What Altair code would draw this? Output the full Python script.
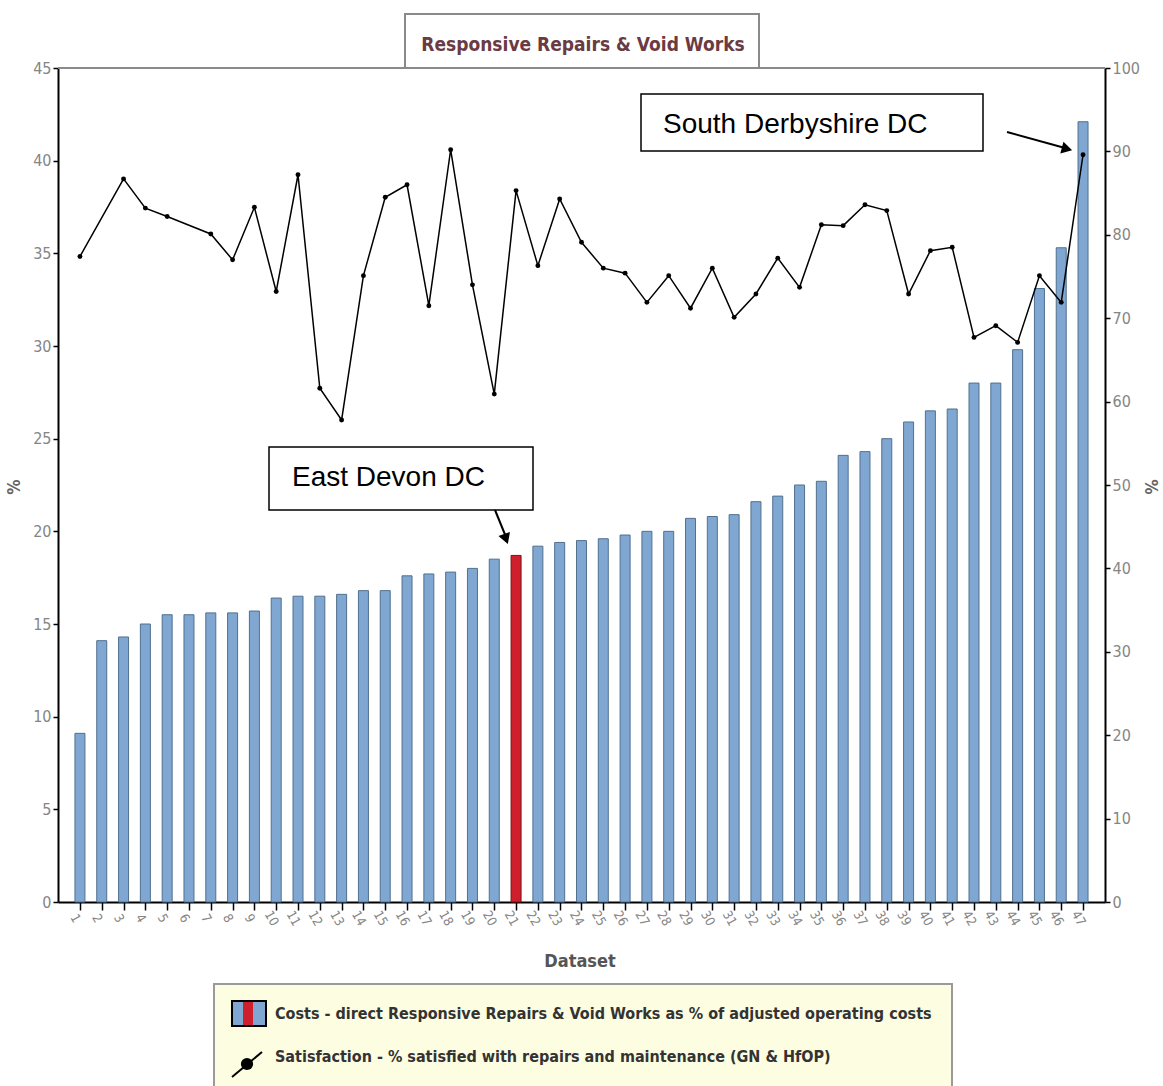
import altair as alt
import pandas as pd

# ---- data -------------------------------------------------------------
datasets = list(range(1, 48))
costs = [9.1, 14.1, 14.3, 15.0, 15.5, 15.5, 15.6, 15.6, 15.7, 16.4,
         16.5, 16.5, 16.6, 16.8, 16.8, 17.6, 17.7, 17.8, 18.0, 18.5,
         18.7, 19.2, 19.4, 19.5, 19.6, 19.8, 20.0, 20.0, 20.7, 20.8,
         20.9, 21.6, 21.9, 22.5, 22.7, 24.1, 24.3, 25.0, 25.9, 26.5,
         26.6, 28.0, 28.0, 29.8, 33.1, 35.3, 42.1]
satisfaction = [77.4, None, 86.7, 83.2, 82.2, None, 80.1, 77.0, 83.3, 73.2,
                87.2, 61.6, 57.8, 75.1, 84.5, 86.0, 71.5, 90.2, 74.0, 60.9,
                85.3, 76.3, 84.3, 79.1, 76.0, 75.4, 71.9, 75.1, 71.2, 76.0,
                70.1, 72.9, 77.2, 73.7, 81.2, 81.1, 83.6, 82.9, 72.9, 78.1,
                78.5, 67.7, 69.1, 67.1, 75.1, 71.9, 89.6]
highlighted = 21
left_ticks = list(range(0, 50, 5))
right_ticks = list(range(0, 110, 10))

title_text = "Responsive Repairs & Void Works"
legend_cost = "Costs - direct Responsive Repairs & Void Works as % of adjusted operating costs"
legend_sat = "Satisfaction - % satisfied with repairs and maintenance (GN & HfOP)"

bars_df = pd.DataFrame({
    "dataset": datasets,
    "cost": costs,
    "group": ["East Devon DC" if d == highlighted else "Other" for d in datasets],
})
sat_df = pd.DataFrame({"dataset": datasets, "sat": satisfaction}).dropna()
one = pd.DataFrame({"k": [0]})

# ---- styling ----------------------------------------------------------
W, H = 1047, 834
NARROW = "Liberation Sans Narrow, DejaVu Sans Condensed, sans-serif"
PLAIN = "Liberation Sans, Arial, sans-serif"
GREY = "#858585"

x_scale = alt.Scale(domain=[0.223, 47.778], nice=False, zero=False)
x_axis = alt.Axis(values=datasets, title=None, labelAngle=60,
                  labelFont=NARROW, labelFontSize=13, labelColor=GREY,
                  labelOverlap=False, labelAlign="center", labelBaseline="top",
                  domainColor="black", domainWidth=2, tickColor="black",
                  tickWidth=1.5, tickSize=8, labelPadding=5, grid=False)
x_enc = alt.X("dataset:Q", scale=x_scale, axis=x_axis)

bars = alt.Chart(bars_df).mark_bar(size=10, strokeWidth=1).encode(
    x=x_enc,
    y=alt.Y("cost:Q", scale=alt.Scale(domain=[0, 45], nice=False),
            axis=alt.Axis(orient="left", values=left_ticks, title=None,
                          labelFont=NARROW, labelFontSize=16, labelColor=GREY,
                          domainColor="black", domainWidth=2, tickColor="black",
                          tickWidth=1.5, tickSize=5, labelPadding=2, grid=False)),
    fill=alt.Fill("group:N", legend=None,
                  scale=alt.Scale(domain=["Other", "East Devon DC"],
                                  range=["#7fa7d1", "#cf1f2d"])),
    stroke=alt.Stroke("group:N", legend=None,
                      scale=alt.Scale(domain=["Other", "East Devon DC"],
                                      range=["#50708f", "#7a1414"])),
)

sat_y = alt.Y("sat:Q", scale=alt.Scale(domain=[0, 100], nice=False),
              axis=alt.Axis(orient="right", values=right_ticks, title=None,
                            labelFont=NARROW, labelFontSize=16, labelColor=GREY,
                            domainColor="black", domainWidth=2, tickColor="black",
                            tickWidth=1.5, tickSize=5, labelPadding=2, grid=False))
sat_line = alt.Chart(sat_df).mark_line(color="black", strokeWidth=1.5).encode(x=x_enc, y=sat_y)
sat_pts = alt.Chart(sat_df).mark_point(filled=True, color="black", size=24, opacity=1).encode(x=x_enc, y=sat_y)
satisfaction_layer = alt.layer(sat_line, sat_pts)


def rect(x, x2, y, y2, fill, stroke, sw):
    return alt.Chart(one).mark_rect(fill=fill, stroke=stroke, strokeWidth=sw).encode(
        x=alt.value(x), x2=alt.value(x2), y=alt.value(y), y2=alt.value(y2))


def rule(x, x2, y, y2, color, sw):
    return alt.Chart(one).mark_rule(color=color, strokeWidth=sw).encode(
        x=alt.value(x), x2=alt.value(x2), y=alt.value(y), y2=alt.value(y2))


def text(t, x, y, size, font, color, weight="normal", align="left",
         baseline="alphabetic", angle=0):
    return alt.Chart(one).mark_text(text=t, font=font, fontSize=size, color=color,
                                    fontWeight=weight, align=align,
                                    baseline=baseline, angle=angle).encode(
        x=alt.value(x), y=alt.value(y))


def head(x, y, shape, angle):
    return alt.Chart(one).mark_point(shape=shape, filled=True, color="black",
                                     size=150, angle=angle, opacity=1).encode(
        x=alt.value(x), y=alt.value(y))


decor = [
    # frame top and title box
    rule(0, W, 0, 0, "#8a8a8a", 2),
    rect(347, 701, -54, 0, "white", "#8a8a8a", 2),
    text(title_text, 525, -17, 19, NARROW, "#6b3a42", weight="bold", align="center"),
    # axis titles
    text("%", -43, 419, 17, NARROW, "#666666", weight="bold", align="center",
         baseline="middle", angle=270),
    text("%", 1092, 419, 17, NARROW, "#666666", weight="bold", align="center",
         baseline="middle", angle=90),
    text("Dataset", 522, 894, 18, NARROW, "#555555", weight="bold", align="center",
         baseline="middle"),
    # callouts
    rect(211, 475, 379, 442, "white", "black", 1.5),
    text("East Devon DC", 234, 418, 28, PLAIN, "black"),
    rule(437, 448, 442, 469, "black", 2),
    head(448, 471, "triangle-down", 340),
    rect(583, 925, 26, 83, "white", "black", 1.5),
    text("South Derbyshire DC", 605, 65, 28, PLAIN, "black"),
    rule(949, 1007, 64, 80, "black", 2),
    head(1009, 81, "triangle-right", 15),
    # legend
    rect(156, 894, 916, 1024, "#fdfde2", "#9a9a9a", 2),
    rect(174, 208, 933, 958, "#7fa7d1", "black", 2),
    rect(185, 195, 934, 957, "#cf1f2d", "#cf1f2d", 0),
    text(legend_cost, 217, 951, 16, NARROW, "#333333", weight="bold"),
    rule(174, 204, 1009, 984, "black", 2),
    head(189, 996, "circle", 0),
    text(legend_sat, 217, 994, 16, NARROW, "#333333", weight="bold"),
]

chart = alt.layer(bars, satisfaction_layer, *decor).resolve_scale(
    y="independent"
).properties(
    width=W, height=H, autosize="none",
    padding={"left": 58, "top": 68, "right": 58, "bottom": 184},
).configure_view(stroke=None)

chart.save("out.html", embed_options={"renderer": "svg", "actions": False})
